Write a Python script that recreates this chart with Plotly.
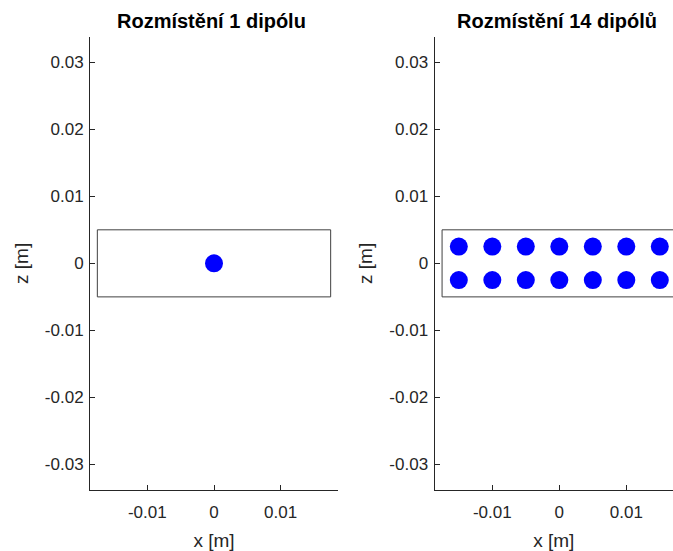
import plotly.graph_objects as go

# Dipole positions (x, z) in metres
x_one = [0.0]
z_one = [0.0]

x_fourteen = [-0.015, -0.01, -0.005, 0.0, 0.005, 0.01, 0.015,
              -0.015, -0.01, -0.005, 0.0, 0.005, 0.01, 0.015]
z_fourteen = [0.0025, 0.0025, 0.0025, 0.0025, 0.0025, 0.0025, 0.0025,
              -0.0025, -0.0025, -0.0025, -0.0025, -0.0025, -0.0025, -0.0025]

# Outline of the substrate block
rect_x = [-0.0175, 0.0175, 0.0175, -0.0175, -0.0175]
rect_z = [-0.005, -0.005, 0.005, 0.005, -0.005]

titles = ["Rozmístění 1 dipólu", "Rozmístění 14 dipólů"]

x_ticks = [-0.01, 0.0, 0.01]
x_ticktext = ["-0.01", "0", "0.01"]
z_ticks = [-0.03, -0.02, -0.01, 0.0, 0.01, 0.02, 0.03]
z_ticktext = ["-0.03", "-0.02", "-0.01", "0", "0.01", "0.02", "0.03"]

W, H = 673, 551
FONT = "Liberation Sans, Arial, Helvetica, sans-serif"
AX_COLOR = "#262626"
DOT_COLOR = "#0000ff"

fig = go.Figure()

# Left panel
fig.add_trace(go.Scatter(x=rect_x, y=rect_z, mode="lines",
                         line=dict(color="#404040", width=1),
                         xaxis="x", yaxis="y", showlegend=False, hoverinfo="skip"))
fig.add_trace(go.Scatter(x=x_one, y=z_one, mode="markers",
                         marker=dict(color=DOT_COLOR, size=18, line=dict(width=0)),
                         xaxis="x", yaxis="y", showlegend=False))

# Right panel
fig.add_trace(go.Scatter(x=rect_x, y=rect_z, mode="lines",
                         line=dict(color="#404040", width=1),
                         xaxis="x2", yaxis="y2", showlegend=False, hoverinfo="skip"))
fig.add_trace(go.Scatter(x=x_fourteen, y=z_fourteen, mode="markers",
                         marker=dict(color=DOT_COLOR, size=18, line=dict(width=0)),
                         xaxis="x2", yaxis="y2", showlegend=False))

y_dom = [1 - 490 / H, 1 - 36.7 / H]

common_x = dict(
    tickvals=x_ticks, ticktext=x_ticktext,
    ticks="inside", ticklen=5, tickwidth=1, tickcolor=AX_COLOR,
    showline=True, linecolor=AX_COLOR, linewidth=1,
    showgrid=False, zeroline=False, mirror=False,
    ticklabelstandoff=7,
    tickfont=dict(family=FONT, size=17, color=AX_COLOR),
    title=dict(text="x [m]", font=dict(family=FONT, size=19, color=AX_COLOR), standoff=12),
)
common_y = dict(
    tickvals=z_ticks, ticktext=z_ticktext,
    ticks="inside", ticklen=5, tickwidth=1, tickcolor=AX_COLOR,
    showline=True, linecolor=AX_COLOR, linewidth=1,
    showgrid=False, zeroline=False, mirror=False,
    ticklabelstandoff=2,
    tickfont=dict(family=FONT, size=17, color=AX_COLOR),
    title=dict(text="z [m]", font=dict(family=FONT, size=19, color=AX_COLOR), standoff=11),
    range=[-0.0338, 0.0338], domain=y_dom,
)

fig.update_layout(
    width=W, height=H,
    margin=dict(l=0, r=0, t=0, b=0),
    paper_bgcolor="white", plot_bgcolor="white",
    xaxis=dict(common_x, domain=[90 / W, 338 / W], range=[-0.0186, 0.0186], anchor="y"),
    yaxis=dict(common_y, anchor="x"),
    xaxis2=dict(common_x, domain=[434.5 / W, 1.0], range=[-0.01863, 0.01697], anchor="y2"),
    yaxis2=dict(common_y, anchor="x2"),
    annotations=[
        dict(text="<b>" + titles[0] + "</b>", x=211 / W, y=1 - 20.5 / H,
             xref="paper", yref="paper", showarrow=False, xanchor="center", yanchor="middle",
             font=dict(family=FONT, size=20, color="#000000")),
        dict(text="<b>" + titles[1] + "</b>", x=556.7 / W, y=1 - 20.5 / H,
             xref="paper", yref="paper", showarrow=False, xanchor="center", yanchor="middle",
             font=dict(family=FONT, size=20, color="#000000")),
    ],
)

fig.write_html("out.html")
